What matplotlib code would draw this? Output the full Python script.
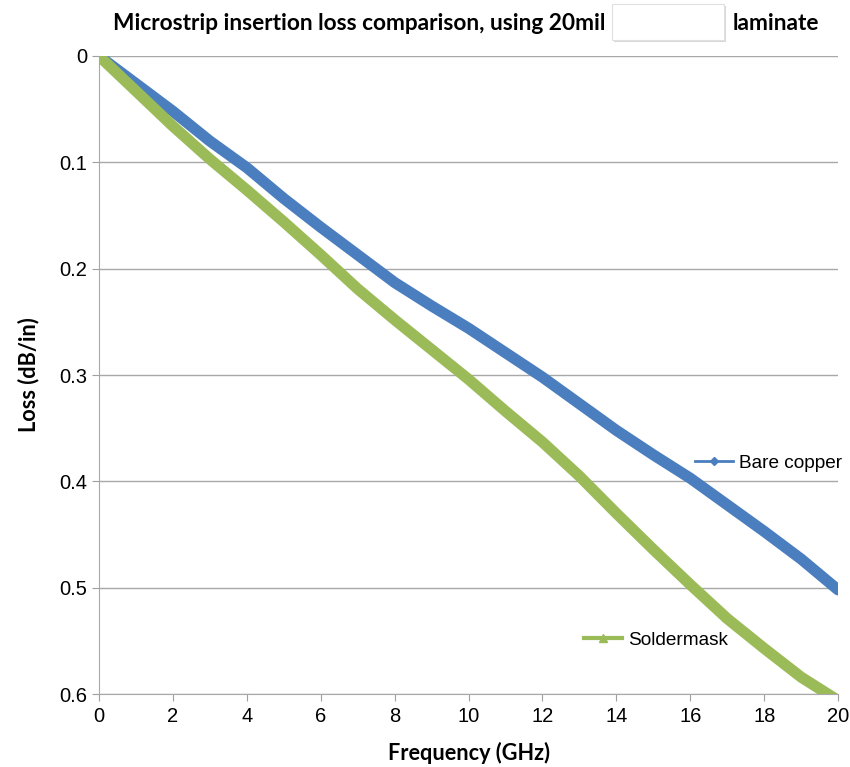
import matplotlib
matplotlib.use("Agg")
import matplotlib.pyplot as plt
from matplotlib.lines import Line2D
from matplotlib.patches import FancyBboxPatch

# frequency (GHz) and loss (dB/in)
freq = [0, 1, 2, 3, 4, 5, 6, 7, 8, 9, 10, 11, 12, 13, 14, 15, 16, 17, 18, 19, 20]
bare_copper = [0, 0.026, 0.052, 0.080, 0.105, 0.134, 0.161, 0.187, 0.213, 0.235, 0.256,
               0.279, 0.302, 0.327, 0.352, 0.375, 0.397, 0.422, 0.447, 0.473, 0.502]
soldermask = [0, 0.033, 0.066, 0.097, 0.126, 0.156, 0.187, 0.219, 0.248, 0.276, 0.304,
              0.334, 0.363, 0.395, 0.430, 0.464, 0.497, 0.529, 0.557, 0.584, 0.606]
xticks = [0, 2, 4, 6, 8, 10, 12, 14, 16, 18, 20]
yticks = [0, 0.1, 0.2, 0.3, 0.4, 0.5, 0.6]
ytick_labels = ["0", "0.1", "0.2", "0.3", "0.4", "0.5", "0.6"]

blue = "#4a7ebf"
green = "#9bbb59"
plt.rcParams["font.family"] = ["Liberation Sans", "DejaVu Sans"]
narrow = ["Lato", "DejaVu Sans"]

fig = plt.figure(figsize=(8.5, 7.67), dpi=100)
ax = fig.add_axes([0.1165, 0.095, 0.8695, 0.832])

ax.plot(freq, bare_copper, color=blue, lw=8, solid_capstyle="round",
        solid_joinstyle="round", zorder=3)
ax.plot(freq, soldermask, color=green, lw=8, solid_capstyle="round",
        solid_joinstyle="round", zorder=3)

ax.set_xlim(0, 20)
ax.set_ylim(0.6, 0)
ax.set_xticks(xticks)
ax.set_yticks(yticks)
ax.set_yticklabels(ytick_labels)
ax.tick_params(labelsize=14.5, colors="#a0a0a0", labelcolor="black", length=5)
ax.tick_params(axis="x", pad=4)
ax.yaxis.grid(True, color="#a8a8a8", lw=1)
ax.set_axisbelow(True)
for s in ["top", "right"]:
    ax.spines[s].set_visible(False)
for s in ["left", "bottom"]:
    ax.spines[s].set_color("#a8a8a8")

ax.set_xlabel("Frequency (GHz)", fontsize=15.6, fontweight="bold", family=narrow, labelpad=12)
ax.set_ylabel("Loss (dB/in)", fontsize=15.6, fontweight="bold", family=narrow, labelpad=14)

# inline legend entries
h1 = Line2D([], [], color=blue, lw=2, marker="D", markersize=4)
h2 = Line2D([], [], color=green, lw=3, marker="^", markersize=6)
leg1 = ax.legend([h1], ["Bare copper"], loc="center left", bbox_to_anchor=(0.783, 0.362),
                 frameon=False, fontsize=13.7, handlelength=2.0, handletextpad=0.3)
ax.add_artist(leg1)
ax.legend([h2], ["Soldermask"], loc="center left", bbox_to_anchor=(0.633, 0.085),
          frameon=False, fontsize=13.7, handlelength=2.0, handletextpad=0.3)

# title with the blanked-out box
fig.text(605 / 850, 1 - 24 / 767, "Microstrip insertion loss comparison, using 20mil",
         ha="right", va="center", fontsize=16.3, fontweight="bold", family=narrow)
fig.text(733 / 850, 1 - 24 / 767, "laminate",
         ha="left", va="center", fontsize=16.3, fontweight="bold", family=narrow)
shadow = FancyBboxPatch((614 / 850, 1 - 42 / 767), 112 / 850, 36 / 767,
                        boxstyle="square,pad=0", transform=fig.transFigure,
                        facecolor="#d8d8d8", edgecolor="none")
box = FancyBboxPatch((612 / 850, 1 - 40 / 767), 112 / 850, 36 / 767,
                     boxstyle="square,pad=0", transform=fig.transFigure,
                     facecolor="white", edgecolor="#e0e0e0", lw=0.8)
fig.patches.extend([shadow, box])

fig.savefig("out.png", dpi=100)
